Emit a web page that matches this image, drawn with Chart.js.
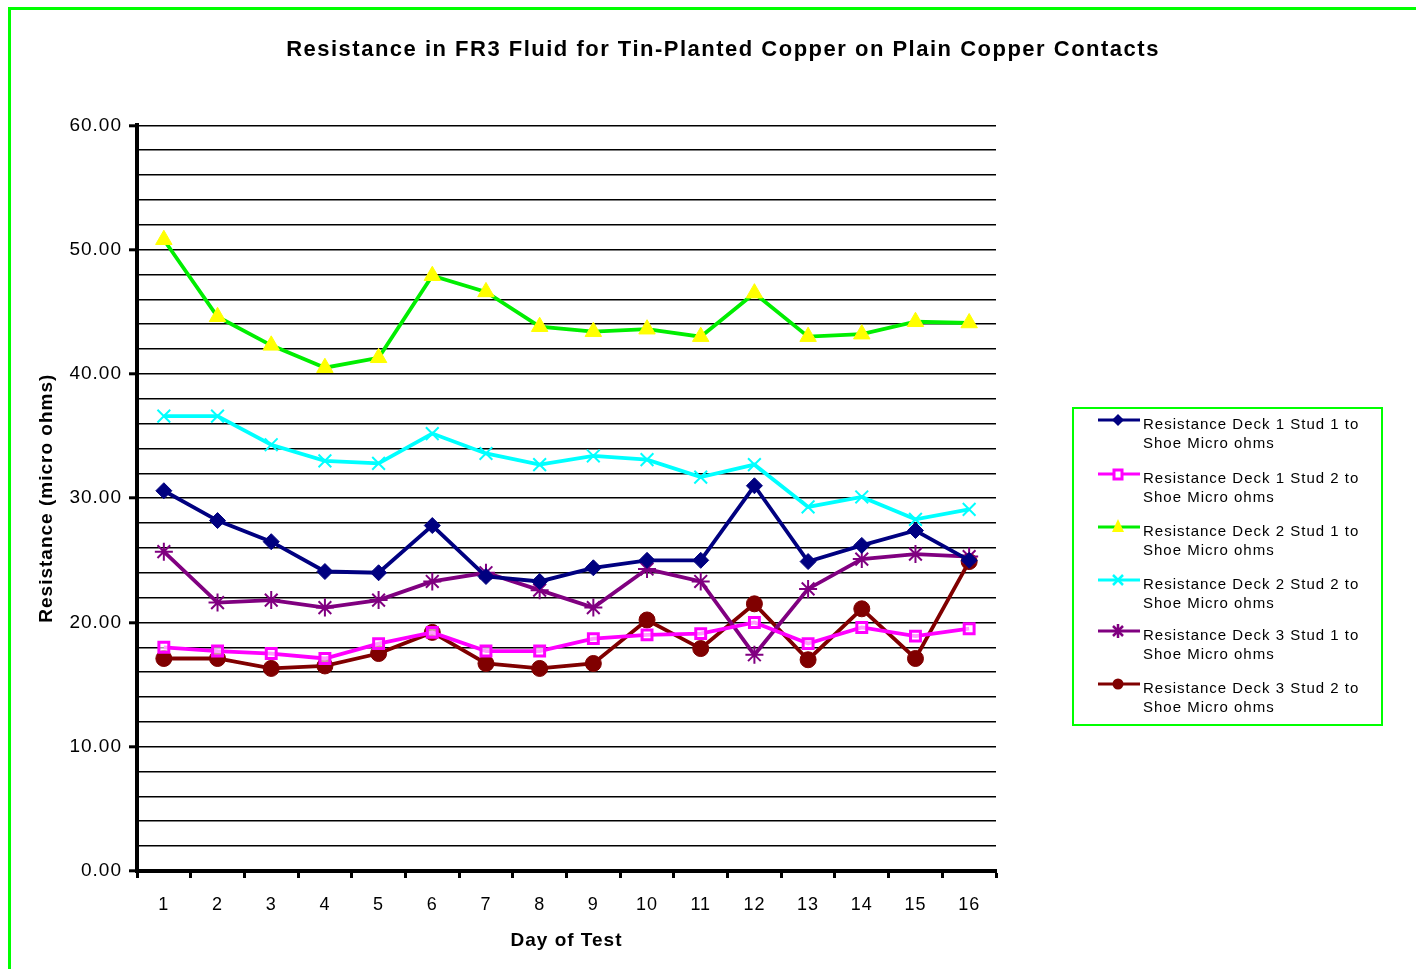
<!DOCTYPE html>
<html>
<head>
<meta charset="utf-8">
<script src="https://cdn.jsdelivr.net/npm/chart.js@4/dist/chart.umd.min.js"></script>
<style>
  html, body { margin: 0; padding: 0; background: #fff; overflow: hidden; }
  #frame { position: absolute; left: 8px; top: 7px; width: 1500px; height: 1100px; border: 3px solid #00ff00; box-sizing: border-box; }
  #wrap { position: absolute; left: 0; top: 0; width: 1416px; height: 969px; }
  #legend { position: absolute; left: 1072px; top: 407px; width: 311px; height: 319px; border: 2px solid #00ff00; box-sizing: border-box; background: #fff;
    font-family: 'Liberation Sans', Arial, sans-serif; font-size: 15px; letter-spacing: 1px; color: #000; }
  .item { position: absolute; left: 23px; }
  .item svg { position: absolute; left: 0; top: 0; }
  .item span { position: absolute; left: 46px; top: 4px; width: 260px; line-height: 19px; white-space: nowrap; }
</style>
</head>
<body>
<div id="frame"></div>
<div id="wrap"><canvas id="myLineChart" width="1416" height="969"></canvas></div>
<div id="legend"></div>
<script>
const days = ['1', '2', '3', '4', '5', '6', '7', '8', '9', '10', '11', '12', '13', '14', '15', '16'];
const deck1Stud1 = [30.6, 28.2, 26.5, 24.1, 24.0, 27.8, 23.7, 23.3, 24.4, 25.0, 25.0, 31.0, 24.9, 26.2, 27.4, 25.0];
const deck1Stud2 = [18.0, 17.7, 17.5, 17.1, 18.3, 19.2, 17.7, 17.7, 18.7, 19.0, 19.1, 20.0, 18.3, 19.6, 18.9, 19.5];
const deck2Stud1 = [50.8, 44.6, 42.3, 40.5, 41.3, 47.9, 46.6, 43.8, 43.4, 43.6, 43.0, 46.5, 43.0, 43.2, 44.2, 44.1];
const deck2Stud2 = [36.6, 36.6, 34.3, 33.0, 32.8, 35.2, 33.6, 32.7, 33.4, 33.1, 31.7, 32.7, 29.3, 30.1, 28.3, 29.1];
const deck3Stud1 = [25.7, 21.6, 21.8, 21.2, 21.8, 23.3, 24.0, 22.6, 21.2, 24.3, 23.3, 17.4, 22.7, 25.1, 25.5, 25.3];
const deck3Stud2 = [17.1, 17.1, 16.3, 16.5, 17.5, 19.2, 16.7, 16.3, 16.7, 20.2, 17.9, 21.5, 17.0, 21.1, 17.1, 24.9];
const seriesNames = [
  'Resistance Deck 1 Stud 1 to Shoe Micro ohms',
  'Resistance Deck 1 Stud 2 to Shoe Micro ohms',
  'Resistance Deck 2 Stud 1 to Shoe Micro ohms',
  'Resistance Deck 2 Stud 2 to Shoe Micro ohms',
  'Resistance Deck 3 Stud 1 to Shoe Micro ohms',
  'Resistance Deck 3 Stud 2 to Shoe Micro ohms'
];

const datasets = [
  { label: seriesNames[0], data: deck1Stud1, borderColor: '#000080', backgroundColor: '#000080',
    pointStyle: 'rectRot', pointRadius: 8, pointBorderWidth: 1 },
  { label: seriesNames[1], data: deck1Stud2, borderColor: '#ff00ff', backgroundColor: 'rgba(255,255,255,0.6)',
    pointStyle: 'rect', pointRadius: 7, pointBorderWidth: 3 },
  { label: seriesNames[2], data: deck2Stud1, borderColor: '#00ee00', backgroundColor: '#ffff00',
    pointBorderColor: '#ffff00', pointStyle: 'triangle', pointRadius: 9.5, pointBorderWidth: 1 },
  { label: seriesNames[3], data: deck2Stud2, borderColor: '#00ffff', backgroundColor: '#00ffff',
    pointStyle: 'crossRot', pointRadius: 9, pointBorderWidth: 2 },
  { label: seriesNames[4], data: deck3Stud1, borderColor: '#800080', backgroundColor: '#800080',
    pointStyle: 'star', pointRadius: 9, pointBorderWidth: 2 },
  { label: seriesNames[5], data: deck3Stud2, borderColor: '#800000', backgroundColor: '#800000',
    pointStyle: 'circle', pointRadius: 8, pointBorderWidth: 1 }
];
datasets.forEach(d => { d.borderWidth = 3.8; d.tension = 0; d.pointHoverRadius = d.pointRadius; });

// the original text is drawn a little spaced out
const spacing = {
  id: 'spacing',
  beforeDraw(chart) {
    chart.ctx.letterSpacing = '1px';
    const tb = chart.titleBlock;
    if (tb && !tb._spaced) {
      const draw = tb.draw.bind(tb);
      tb.draw = (area) => {
        chart.ctx.save();
        chart.ctx.letterSpacing = '1.5px';
        draw(area);
        chart.ctx.restore();
      };
      tb._spaced = true;
    }
  }
};

const ctx = document.getElementById('myLineChart').getContext('2d');
new Chart(ctx, {
  type: 'line',
  data: { labels: days, datasets: datasets },
  plugins: [spacing],
  options: {
    responsive: false,
    animation: false,
    layout: { padding: { left: 30, right: 0, top: 0, bottom: 0 } },
    plugins: {
      legend: { display: false },
      tooltip: { enabled: false },
      title: {
        display: true,
        text: 'Resistance in FR3 Fluid for Tin-Planted Copper on Plain Copper Contacts',
        color: '#000',
        font: { family: 'Liberation Sans, Arial, sans-serif', size: 22, weight: 'bold' },
        padding: { top: 37, bottom: 62 }
      }
    },
    scales: {
      x: {
        offset: true,
        grid: { offset: true, drawOnChartArea: false, drawTicks: true, tickLength: 7, tickWidth: 3, tickColor: '#000' },
        border: { display: true, color: '#000', width: 4 },
        ticks: { color: '#000', padding: 16, font: { family: 'Liberation Sans Narrow, Liberation Sans, Arial, sans-serif', size: 18 } },
        title: { display: true, text: 'Day of Test', color: '#000', padding: { top: 0, bottom: 17 },
          font: { family: 'Liberation Sans, Arial, sans-serif', size: 19, weight: 'bold' } },
        afterFit: s => { s.height = 98; }
      },
      y: {
        min: 0, max: 60,
        grid: { color: '#000', lineWidth: 1.6, tickLength: 8, tickWidth: 3,
          tickColor: c => (c.tick && c.tick.value % 10 === 0 ? '#000' : 'rgba(0,0,0,0)') },
        border: { display: true, color: '#000', width: 4 },
        ticks: { stepSize: 2, autoSkip: false, color: '#000', padding: 7,
          font: { family: 'Liberation Sans, Arial, sans-serif', size: 19 },
          callback: v => (v % 10 === 0 ? v.toFixed(2) : '') },
        title: { display: true, text: 'Resistance (micro ohms)', color: '#000', padding: { top: 5, bottom: 0 },
          font: { family: 'Liberation Sans, Arial, sans-serif', size: 19, weight: 'bold' } },
        afterFit: s => { s.width = 107; }
      },
      // empty axis on the right that keeps room for the legend box
      side: {
        type: 'linear', position: 'right',
        grid: { display: false }, border: { display: false }, ticks: { display: false },
        afterFit: s => { s.width = 420; }
      }
    }
  }
});

// legend built from the same datasets
function markerSvg(d) {
  const c = d.pointBorderColor || d.borderColor;
  let m = '';
  if (d.pointStyle === 'rectRot') m = `<polygon points="21,4 27,10 21,16 15,10" fill="${c}"/>`;
  if (d.pointStyle === 'rect') m = `<rect x="17" y="6" width="8" height="9" fill="#fff" stroke="${c}" stroke-width="3"/>`;
  if (d.pointStyle === 'triangle') m = `<polygon points="21,2 27,15 15,15" fill="#ffff00"/>`;
  if (d.pointStyle === 'crossRot') m = `<path d="M16,5 L26,15 M26,5 L16,15" stroke="${c}" stroke-width="2.5"/>`;
  if (d.pointStyle === 'star') m = `<path d="M16,5 L26,15 M26,5 L16,15 M21,3 L21,17" stroke="${c}" stroke-width="2.5"/>`;
  if (d.pointStyle === 'circle') m = `<circle cx="21" cy="10" r="5.5" fill="${c}"/>`;
  return `<svg width="44" height="20"><line x1="1" y1="10" x2="43" y2="10" stroke="${d.borderColor}" stroke-width="3"/>${m}</svg>`;
}
const legend = document.getElementById('legend');
const tops = [1, 55, 108, 161, 212, 265];
datasets.forEach((d, i) => {
  const parts = d.label.split(' to ');
  const el = document.createElement('div');
  el.className = 'item';
  el.style.top = tops[i] + 'px';
  el.innerHTML = markerSvg(d) + `<span>${parts[0]} to<br>${parts[1]}</span>`;
  legend.appendChild(el);
});
</script>
</body>
</html>
